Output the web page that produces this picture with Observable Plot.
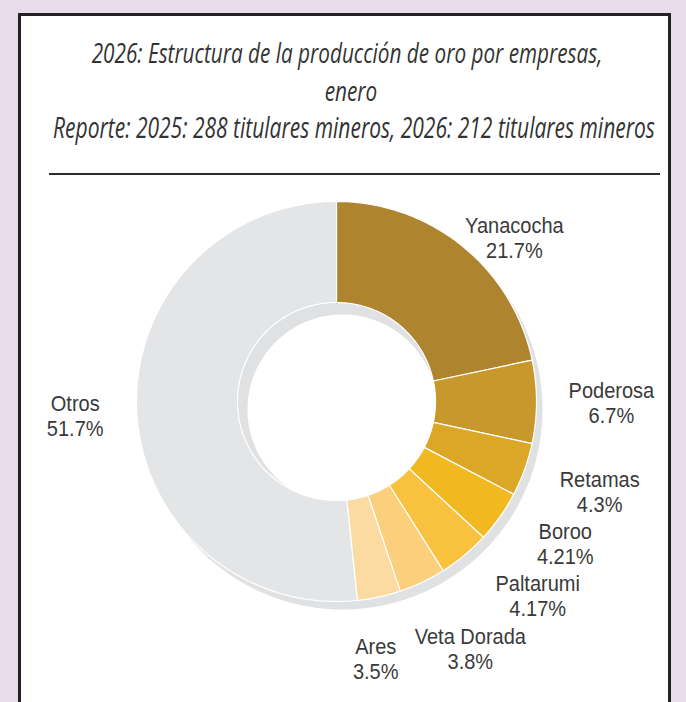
<!DOCTYPE html>
<html><head><meta charset="utf-8">
<script src="https://cdn.jsdelivr.net/npm/d3@7"></script>
<script src="https://cdn.jsdelivr.net/npm/@observablehq/plot@0.6"></script>
<style>
html,body{margin:0;padding:0;}
body{width:686px;height:702px;background:#e8dcea;position:relative;overflow:hidden;}
#panel{position:absolute;left:18px;top:13px;width:647px;height:720px;border:3px solid #222;background:#fff;}
#rule{position:absolute;left:49px;top:173px;width:611px;height:2px;background:#2b2b2b;}
#header{position:absolute;left:0;top:0;}
#chart{position:absolute;left:0;top:185px;}
#header text{fill:#333;font-family:"Open Sans","Noto Sans",sans-serif;font-style:italic;}
</style></head><body>
<div id="panel"></div>
<svg id="header" width="686" height="180">
  <text id="t1" text-anchor="middle" font-size="28" font-weight="500">2026: Estructura de la producción de oro por empresas,</text>
  <text id="t2" text-anchor="middle" font-size="28" font-weight="500">enero</text>
  <text id="t3" text-anchor="middle" font-size="29" font-weight="400">Reporte: 2025: 288 titulares mineros, 2026: 212 titulares mineros</text>
</svg>
<div id="rule"></div>
<div id="chart"></div>
<script>
// ---- data ----
const companies = ["Yanacocha", "Poderosa", "Retamas", "Boroo", "Paltarumi", "Veta Dorada", "Ares", "Otros"];
const shares = [21.7, 6.7, 4.3, 4.21, 4.17, 3.8, 3.5, 51.7];

// ---- styles ----
const palette = ["#af842f", "#c8982d", "#dca727", "#f1b81f", "#f9c23e", "#fbcf7b", "#fcdba2", "#e4e5e7"];
const shadowColor = "#e0e1e3";
const textColor = "#3a3a3a";

// ---- layout ----
const W = 686, H = 517, top0 = 185;
const cx = 336, cy = 401 - top0;
const R = 200, r = 99;
const shadowDx = 6, shadowDy = 8, shadowR = 95;
const labelGap = 232, minTop = 27;
const fontSize = 22, lineH = 25, squeeze = 0.91;
const labelFont = `${fontSize}px "Liberation Sans", Arial, sans-serif`;

const table = companies.map((company, i) => ({company, share: shares[i], label: `${company}\n${shares[i]}%`}));
const pie = d3.pie().sort(null).value(d => d.share)(table);

function arcPts(x0, y0, rad, a0, a1) {
  const n = Math.max(2, Math.ceil(Math.abs(a1 - a0) / (Math.PI / 180)));
  return d3.range(n + 1).map(k => {
    const a = a0 + (a1 - a0) * k / n;
    return [x0 + rad * Math.sin(a), y0 - rad * Math.cos(a)];
  });
}
function closeRing(pts) { return [...pts, pts[0]]; }

const slices = pie.map(p => ({
  type: "Feature",
  properties: {company: p.data.company},
  geometry: {type: "Polygon", coordinates: [closeRing([
    ...arcPts(cx, cy, R, p.startAngle, p.endAngle),
    ...arcPts(cx, cy, r, p.endAngle, p.startAngle)
  ])]}
}));

const sx = cx + shadowDx, sy = cy + shadowDy;
const shadow = {
  type: "Feature", properties: {},
  geometry: {type: "Polygon", coordinates: [
    closeRing(arcPts(sx, sy, R, 0, 2 * Math.PI).slice(0, -1)),
    closeRing(arcPts(sx, sy, shadowR, 2 * Math.PI, 0).slice(0, -1))
  ]}
};

// label layout from the slice angles
const ctx = document.createElement("canvas").getContext("2d");
ctx.font = labelFont;
const labels = pie.map(p => {
  const lines = p.data.label.split("\n");
  const w = d3.max(lines, s => ctx.measureText(s).width) * squeeze;
  return {company: p.data.company, label: p.data.label, angle: (p.startAngle + p.endAngle) / 2, w, h: 2 * lineH};
});
function place(l) {
  const ux = Math.sin(l.angle), uy = -Math.cos(l.angle);
  const d = labelGap + Math.abs(ux) * l.w / 2 + Math.abs(uy) * l.h / 2;
  l.x = cx + ux * d;
  l.y = Math.max(cy + uy * d, minTop + l.h / 2);
}
const collH = 52, pad = 16, step = Math.PI / 1800;
function overlap(a, b) {
  return Math.abs(a.x - b.x) < (a.w + b.w) / 2 + pad && Math.abs(a.y - b.y) < collH;
}
for (let it = 0; it < 3000; it++) {
  labels.forEach(place);
  let moved = false;
  for (let i = 0; i < labels.length - 1; i++) {
    const a = labels[i], b = labels[i + 1];
    if (overlap(a, b)) { a.angle -= step; b.angle += 0.5 * step; moved = true; }
  }
  if (!moved) break;
}
labels.forEach(place);

const plot = Plot.plot({
  width: W, height: H, margin: 0,
  projection: {type: "identity"},
  color: {domain: companies, range: palette},
  style: {background: "transparent", fontFamily: '"Liberation Sans", Arial, sans-serif', overflow: "visible"},
  marks: [
    Plot.geo([shadow], {fill: shadowColor}),
    Plot.geo(slices, {fill: d => d.properties.company, stroke: "white", strokeWidth: 1.2}),
    Plot.text(labels, {x: "x", y: "y", text: "label", fontSize, lineHeight: lineH / fontSize,
      fill: textColor, textAnchor: "middle", lineAnchor: "middle"})
  ]
});
d3.select(plot).selectAll('g[aria-label="text"] text').each(function () {
  const t = this.getAttribute("transform") || "";
  this.setAttribute("transform", `${t} scale(${squeeze},1)`);
});
document.getElementById("chart").appendChild(plot);

// header fitting
function fit(id, x, y, s) { document.getElementById(id).setAttribute("transform", `translate(${x},${y}) scale(${s},1)`); }
const t1 = document.getElementById("t1"), t3 = document.getElementById("t3");
const s1 = 511 / t1.getComputedTextLength();
const s3 = 602 / t3.getComputedTextLength();
fit("t1", 347, 63, s1);
fit("t2", 351, 101, s1);
fit("t3", 354, 138, s3);
</script>
</body></html>
